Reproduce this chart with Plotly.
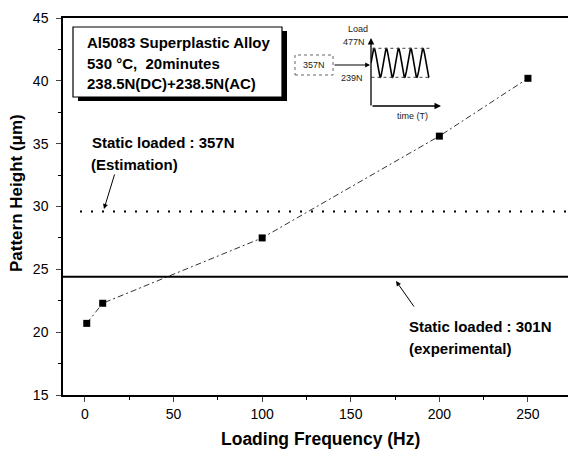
import plotly.graph_objects as go
import numpy as np

# ---- data ----
freq_hz = [1, 10, 100, 200, 250]
pattern_height_um = [20.7, 22.3, 27.5, 35.6, 40.2]
static_357N_estimation = 29.6
static_301N_experimental = 24.4
x_ticks = [0, 50, 100, 150, 200, 250]
y_ticks = [15, 20, 25, 30, 35, 40, 45]
load_max, load_mean, load_min = 477, 357, 239
inset_cycles = 4.75

FONT = "Arial, Liberation Sans, Helvetica, sans-serif"
W, H = 568, 457
L, R, T, B = 63, 568, 18, 395


def px(x):
    return (x - L) / (R - L)


def py(y):
    return (B - y) / (B - T)


fig = go.Figure()

# main series
fig.add_trace(go.Scatter(
    x=freq_hz, y=pattern_height_um, mode="lines+markers",
    line=dict(color="#333333", width=1, dash="6px,3px,2px,3px"),
    marker=dict(symbol="square", size=7, color="black"),
    showlegend=False, hoverinfo="x+y"))

# inset waveform (schematic load: mean +/- amplitude)
t_end = 8.4
t = np.linspace(0, t_end, 400)
amp = (load_max - load_min) / 2
wave = load_mean + amp * np.sin(2 * np.pi * inset_cycles * t / t_end)
fig.add_trace(go.Scatter(x=t, y=wave, mode="lines", xaxis="x2", yaxis="y2",
                         line=dict(color="black", width=1.6), showlegend=False,
                         hoverinfo="skip"))

shapes = []
# horizontal reference lines
shapes.append(dict(type="line", xref="paper", yref="y", x0=0, x1=1,
                   y0=static_301N_experimental, y1=static_301N_experimental,
                   line=dict(color="black", width=2)))
shapes.append(dict(type="line", xref="paper", yref="y", x0=px(80), x1=1,
                   y0=static_357N_estimation, y1=static_357N_estimation,
                   line=dict(color="black", width=2, dash="2px,9px")))
# info box with shadow
shapes.append(dict(type="rect", xref="paper", yref="paper",
                   x0=px(78), x1=px(287), y0=py(101), y1=py(31),
                   fillcolor="black", line=dict(width=0), layer="above"))
shapes.append(dict(type="rect", xref="paper", yref="paper",
                   x0=px(73), x1=px(282), y0=py(97), y1=py(27),
                   fillcolor="white", line=dict(color="black", width=1.2), layer="above"))
# inset dotted level lines
shapes.append(dict(type="line", xref="x2", yref="y2", x0=0.2, x1=8.6,
                   y0=load_max, y1=load_max, line=dict(color="#444", width=1, dash="dot")))
shapes.append(dict(type="line", xref="x2", yref="y2", x0=-0.8, x1=8.6,
                   y0=load_min, y1=load_min, line=dict(color="#444", width=1, dash="dot")))
# 357N dashed box
shapes.append(dict(type="rect", xref="paper", yref="paper",
                   x0=px(295), x1=px(333), y0=py(75), y1=py(55),
                   line=dict(color="#666", width=1, dash="dot")))

ann = []
box_lines = ["Al5083 Superplastic Alloy", "530 °C,  20minutes", "238.5N(DC)+238.5N(AC)"]
for i, s in enumerate(box_lines):
    ann.append(dict(text="<b>%s</b>" % s, xref="paper", yref="paper", x=px(85), y=py(43 + 20 * i),
                    xanchor="left", yanchor="middle", showarrow=False,
                    font=dict(family=FONT, size=15, color="black")))

for s, x, y in [("Static loaded : 357N", 90, 142), ("(Estimation)", 89, 165),
                ("Static loaded : 301N", 407, 326), ("(experimental)", 407, 348)]:
    ann.append(dict(text="<b>%s</b>" % s, xref="paper", yref="paper", x=px(x), y=py(y),
                    xanchor="left", yanchor="middle", showarrow=False,
                    font=dict(family=FONT, size=15, color="black")))

# pointer arrows
ann.append(dict(text="", xref="paper", yref="paper", x=px(104), y=py(209), ax=11, ay=-36,
                showarrow=True, arrowhead=2, arrowsize=1, arrowwidth=1, arrowcolor="black"))
ann.append(dict(text="", xref="paper", yref="paper", x=px(396), y=py(281), ax=19, ay=27,
                showarrow=True, arrowhead=2, arrowsize=1, arrowwidth=1, arrowcolor="black"))

# inset axes arrows
ann.append(dict(text="", xref="paper", yref="paper", x=px(371), y=py(38), ax=0, ay=69,
                showarrow=True, arrowhead=2, arrowsize=1, arrowwidth=1.3, arrowcolor="black"))
ann.append(dict(text="", xref="paper", yref="paper", x=px(441), y=py(106), ax=-70, ay=0,
                showarrow=True, arrowhead=2, arrowsize=1, arrowwidth=1.3, arrowcolor="black"))
ann.append(dict(text="", xref="paper", yref="paper", x=px(370), y=py(65), ax=-37, ay=0,
                showarrow=True, arrowhead=2, arrowsize=0.8, arrowwidth=1.2, arrowcolor="black"))
# inset labels
small = dict(family=FONT, size=9, color="#222")
for s, x, y, xa in [("Load", 346, 29, "left"), ("%dN" % load_max, 367, 42, "right"),
                    ("%dN" % load_min, 365, 78, "right"), ("%dN" % load_mean, 314, 65, "center"),
                    ("time (T)", 412, 116, "center")]:
    ann.append(dict(text=s, xref="paper", yref="paper", x=px(x), y=py(y), xanchor=xa,
                    yanchor="middle", showarrow=False, font=small))

# axis titles
ann.append(dict(text="<b>Pattern Height (μm)</b>", xref="paper", yref="paper", x=px(16), y=py(193),
                textangle=-90, showarrow=False, xanchor="center", yanchor="middle",
                font=dict(family=FONT, size=17, color="black")))
ann.append(dict(text="<b>Loading Frequency (Hz)</b>", xref="paper", yref="paper", x=px(320), y=py(439),
                showarrow=False, xanchor="center", yanchor="middle",
                font=dict(family=FONT, size=17.5, color="black")))

fig.update_layout(
    width=W, height=H,
    margin=dict(l=L, r=W - R, t=T, b=H - B, autoexpand=False),
    paper_bgcolor="white", plot_bgcolor="white",
    font=dict(family=FONT, size=14, color="black"),
    shapes=shapes, annotations=ann,
    xaxis=dict(range=[-12.4, 272.6], tickvals=x_ticks, ticks="outside", ticklen=5, tickwidth=1,
               showline=True, linecolor="black", linewidth=1.5, mirror=True, showgrid=False,
               zeroline=False, tickfont=dict(size=14), automargin=False,
               minor=dict(dtick=25, tick0=0, ticks="outside", ticklen=3, tickcolor="black")),
    yaxis=dict(range=[15, 45], tickvals=y_ticks, ticks="outside", ticklen=5, tickwidth=1,
               showline=True, linecolor="black", linewidth=1.5, showgrid=False, zeroline=False,
               tickfont=dict(size=14), automargin=False, ticklabelstandoff=5,
               minor=dict(dtick=2.5, tick0=15, ticks="outside", ticklen=3, tickcolor="black")),
    xaxis2=dict(domain=[px(371), px(440)], range=[0, 10], visible=False, anchor="y2"),
    yaxis2=dict(domain=[py(107), py(39)], range=[-4.7, 553.3], visible=False, anchor="x2"),
)

fig.write_html("out.html", config={"displayModeBar": False},
               post_script="document.body.style.margin='0';document.body.style.padding='0';")
